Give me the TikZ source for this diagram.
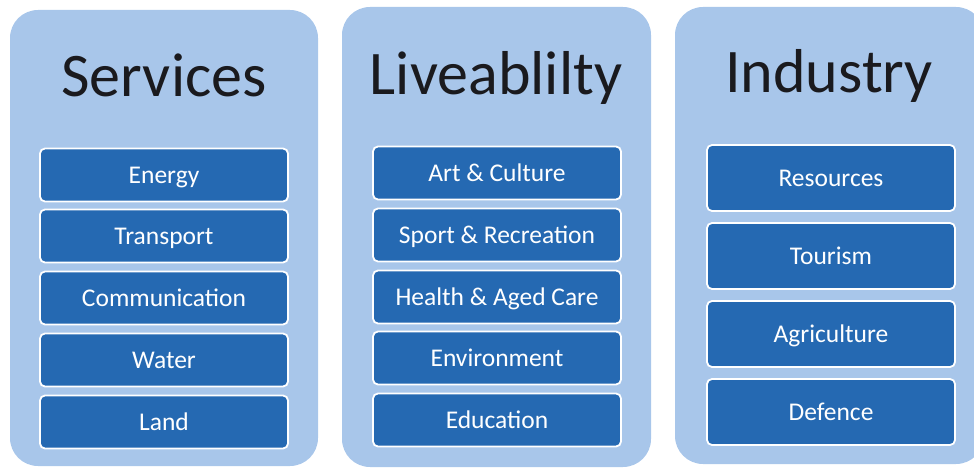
\documentclass[tikz,border=0pt]{standalone}
\usepackage{fontspec}
\setmainfont{Carlito}
\begin{document}
\begin{tikzpicture}[x=1pt,y=-1pt,
  panel/.style={fill=panelblue, rounded corners=28pt},
  title/.style={anchor=base, text=titleink, font=\fontsize{62}{62}\selectfont, inner sep=0pt},
  item/.style={draw=white, line width=1.8pt, fill=itemblue, rounded corners=5pt,
    text=white, font=\fontsize{25.5}{26}\selectfont, text height=16pt, text depth=0pt,
    inner sep=0pt, minimum width=248pt},
  smallitem/.style={item, minimum height=53pt},
  bigitem/.style={item, minimum height=66pt}]
\definecolor{panelblue}{RGB}{168,198,234}
\definecolor{itemblue}{RGB}{37,105,178}
\definecolor{titleink}{RGB}{26,26,30}

\useasboundingbox (0,0) rectangle (974,468);
\clip (0,0) rectangle (974,468);

% three column panels
\fill[panel] (10,10) rectangle (318,466);
\fill[panel] (342,7) rectangle (651,467);
\fill[panel] (675,7) rectangle (984,464);

% column titles
\node[title] (tServices) at (164,97) {Services};
\node[title] (tLive) at (496,95) {Liveablilty};
\node[title] (tIndustry) at (829,93) {Industry};

% Services items
\node[smallitem] (s1) at (164,175) {Energy};
\node[smallitem] (s2) at (164,236) {Transport};
\node[smallitem] (s3) at (164,298) {Communication};
\node[smallitem] (s4) at (164,360) {Water};
\node[smallitem] (s5) at (164,422) {Land};

% Liveability items
\node[smallitem] (l1) at (497,173) {Art \& Culture};
\node[smallitem] (l2) at (497,235) {Sport \& Recreation};
\node[smallitem] (l3) at (497,297) {Health \& Aged Care};
\node[smallitem] (l4) at (497,358) {Environment};
\node[smallitem] (l5) at (497,420) {Education};

% Industry items
\node[bigitem] (i1) at (831,178) {Resources};
\node[bigitem] (i2) at (831,256) {Tourism};
\node[bigitem] (i3) at (831,334) {Agriculture};
\node[bigitem] (i4) at (831,412) {Defence};
\end{tikzpicture}
\end{document}
